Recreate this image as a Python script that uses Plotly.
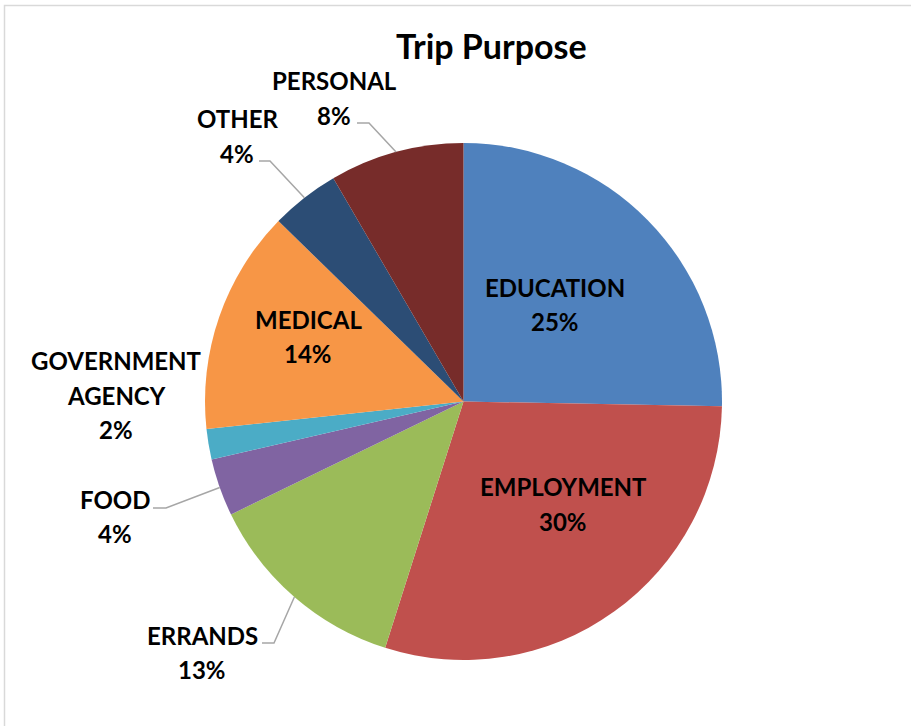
import math
import plotly.graph_objects as go

# ---- data ----
categories = ["EDUCATION", "EMPLOYMENT", "ERRANDS", "FOOD",
              "GOVERNMENT AGENCY", "MEDICAL", "OTHER", "PERSONAL"]
shares = [25.3, 29.6, 12.9, 3.6, 1.9, 14.0, 4.3, 8.4]
colors = ["#4F81BD", "#C0504D", "#9BBB59", "#8064A2",
          "#4BACC6", "#F79646", "#2C4D75", "#772C2A"]

W, H = 911, 726
OFF = 0  # page body margin removed by post_script
CX, CY, R = 463.5, 401.5, 258.5   # pie centre / radius in screen pixels (layout)

def px(x):
    return (x - OFF) / W

def py(y):
    return 1 - (y - OFF) / H

fig = go.Figure(go.Pie(
    labels=categories, values=shares, sort=False, direction="clockwise",
    rotation=0, marker=dict(colors=colors, line=dict(width=0)),
    textinfo="none", hoverinfo="label+percent", showlegend=False,
    domain=dict(x=[px(CX - R), px(CX + R)], y=[py(CY + R), py(CY - R)]),
))

total = sum(shares)
pct = [f"{round(v / total * 100):.0f}%" for v in shares]

# label layout: (name lines, x centre, y of first line) in screen pixels
LINE = 34.5
label_layout = {
    "EDUCATION": (["EDUCATION"], 555, 287),
    "EMPLOYMENT": (["EMPLOYMENT"], 563, 487),
    "ERRANDS": (["ERRANDS"], 202, 635),
    "FOOD": (["FOOD"], 115, 499),
    "GOVERNMENT AGENCY": (["GOVERNMENT", "AGENCY"], 116, 360.5),
    "MEDICAL": (["MEDICAL"], 308, 319),
    "OTHER": (["OTHER"], 237, 119),
    "PERSONAL": (["PERSONAL"], 334, 81),
}
# leader-line elbows (start x, elbow x, y) in screen pixels
leaders = {
    "PERSONAL": (357, 369, 123),
    "OTHER": (259, 270, 161),
    "FOOD": (153, 166, 508),
    "ERRANDS": (262, 274, 643),
}

FONT = "Lato, 'Open Sans', sans-serif"
ann = []
shapes = []
cum = 0.0
for cat, v, p in zip(categories, shares, pct):
    mid = (cum + v / 2) / total * 2 * math.pi
    cum += v
    lines, x, y0 = label_layout[cat]
    for i, t in enumerate(lines + [p]):
        ann.append(dict(x=px(x), y=py(y0 + i * LINE), xref="paper", yref="paper",
                        text=f"<b>{t}</b>", showarrow=False,
                        xanchor="center", yanchor="middle",
                        font=dict(family=FONT, size=24, color="#000000")))
    if cat in leaders:
        sx, ex, ly = leaders[cat]
        tx = CX + R * math.sin(mid)
        ty = CY - R * math.cos(mid)
        shapes.append(dict(type="path", xref="paper", yref="paper",
                           path=f"M {px(sx)},{py(ly)} L {px(ex)},{py(ly)} L {px(tx)},{py(ty)}",
                           line=dict(color="#A6A6A6", width=1.5)))

# chart border (top and left edges visible)
shapes.append(dict(type="path", xref="paper", yref="paper",
                   path=f"M {px(4.5)},{py(740)} L {px(4.5)},{py(5.5)} L {px(930)},{py(5.5)}",
                   line=dict(color="#D9D9D9", width=1.5)))

ann.append(dict(x=px(492), y=py(45), xref="paper", yref="paper",
                text="<b>Trip Purpose</b>", showarrow=False,
                xanchor="center", yanchor="middle",
                font=dict(family=FONT, size=34, color="#000000")))

fig.update_layout(width=W, height=H, margin=dict(l=0, r=0, t=0, b=0),
                  paper_bgcolor="white", plot_bgcolor="white",
                  annotations=ann, shapes=shapes)

fig.write_html("out.html", config={"displayModeBar": False},
               post_script="document.body.style.margin='0';document.body.style.overflow='hidden';")
